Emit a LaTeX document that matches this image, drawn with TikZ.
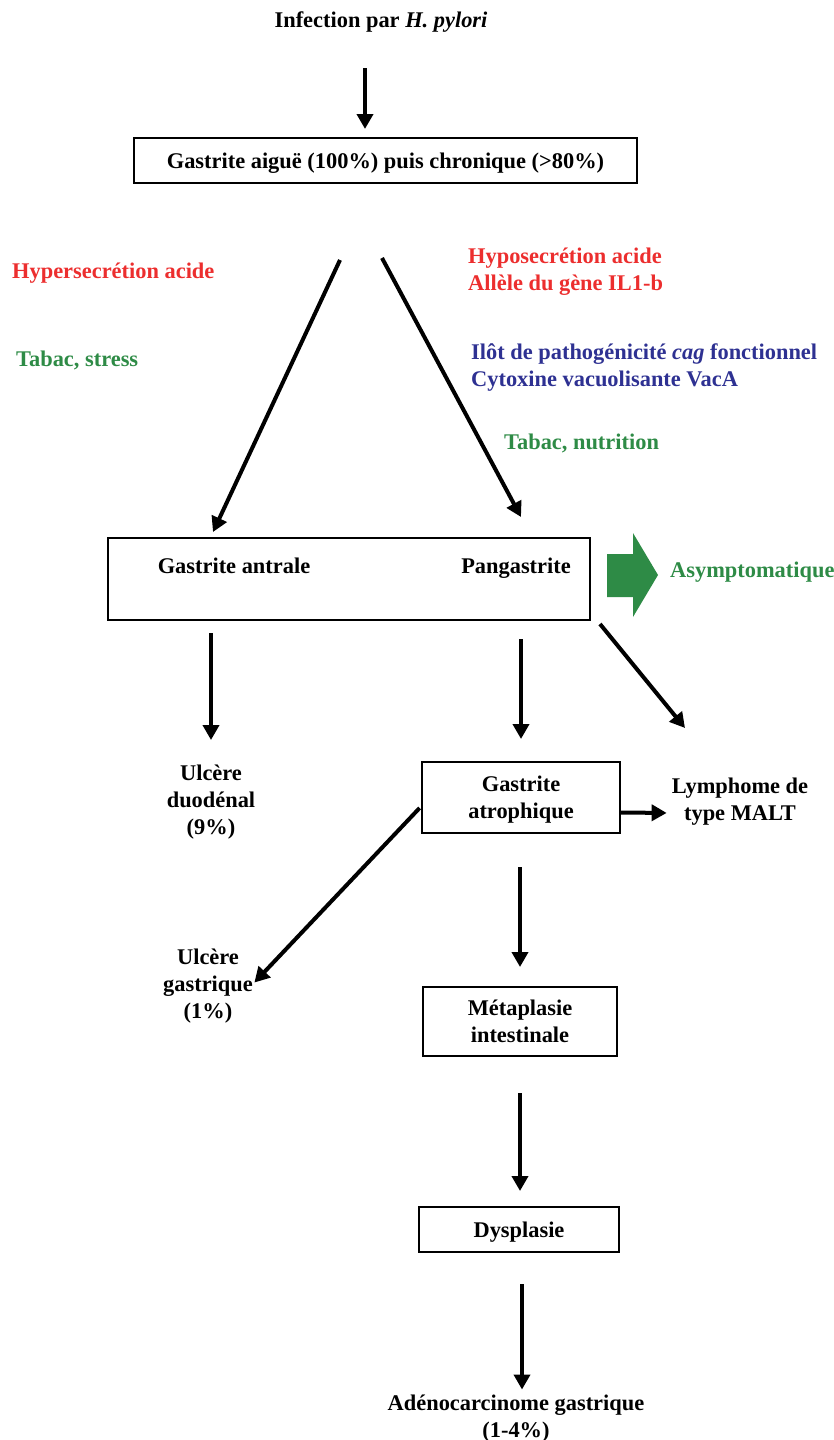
\documentclass[tikz,border=0pt]{standalone}
\usepackage{fontspec}
\setmainfont{Liberation Serif}
\usetikzlibrary{arrows.meta}
\definecolor{hprouge}{RGB}{236,46,46}
\definecolor{hpvert}{RGB}{46,139,70}
\definecolor{hpbleu}{RGB}{46,49,146}
\begin{document}
\begin{tikzpicture}[x=1pt,y=-1pt,
  every node/.style={font=\fontsize{22.4}{27}\selectfont\bfseries,inner sep=0pt,text depth=0pt,align=center},
  etape/.style={draw,line width=2pt},%boxes
  fl/.style={line width=4pt,-{Triangle[length=15pt,width=16pt]}},%thick arrows
  facteur/.style={anchor=west,align=left}]
\useasboundingbox (0,0) rectangle (834,1440);

\node (infection) at (381,20) {Infection par \textit{H. pylori}};
\node[etape,minimum width=503pt,minimum height=45pt] (aigue) at (385.5,160.5) {Gastrite aiguë (100\%) puis chronique (>80\%)};

\node[facteur,text=hprouge] (hyper) at (12,271) {Hypersecrétion acide};
\node[facteur,text=hpvert] (tabacL) at (16,359) {Tabac, stress};
\node[facteur,text=hprouge] (hypo) at (468,269) {Hyposecrétion acide\\Allèle du gène IL1-b};
\node[facteur,text=hpbleu] (cag) at (471,365.5) {Ilôt de pathogénicité \textit{cag} fonctionnel\\Cytoxine vacuolisante VacA};
\node[facteur,text=hpvert] (tabacR) at (504,442) {Tabac, nutrition};

\node[etape,minimum width=482pt,minimum height=82pt] (chronique) at (349,579) {};
\node (antrale) at (234,566) {Gastrite antrale};
\node (pangas) at (516,566) {Pangastrite};
\fill[hpvert] (607,554) -- (633,554) -- (633,533) -- (658,575) -- (633,617) -- (633,597) -- (607,597) -- cycle;
\node[anchor=west,text=hpvert] (asympto) at (670,570) {Asymptomatique};

\node (duodenal) at (211,800) {Ulcère\\duodénal\\(9\%)};
\node[etape,minimum width=198pt,minimum height=71pt] (atrophique) at (521,797.5) {Gastrite\\atrophique};
\node (malt) at (740,799) {Lymphome de\\type MALT};
\node (gastrique) at (208,984) {Ulcère\\gastrique\\(1\%)};
\node[etape,minimum width=194pt,minimum height=69pt] (metaplasie) at (520,1021.5) {Métaplasie\\intestinale};
\node[etape,minimum width=200pt,minimum height=45pt] (dysplasie) at (519,1229.5) {Dysplasie};
\node (adeno) at (516,1416) {Adénocarcinome gastrique\\(1-4\%)};

\coordinate (dL) at (340,260);
\coordinate (dR) at (382,258);
\coordinate (fL) at (213,532);
\coordinate (fR) at (521,517);
\coordinate (dM) at (600,624);
\coordinate (fM) at (685,728);

\draw[fl,shorten <=40pt,shorten >=8pt] (365,28) coordinate (t1) -- (t1 |- aigue.north);
\draw[fl] (dL) -- (fL);
\draw[fl] (dR) -- (fR);
\draw[fl,shorten <=12pt,shorten >=25pt] (duodenal.north |- chronique.south) -- (duodenal.north);
\draw[fl,shorten <=18pt,shorten >=22pt] (atrophique.north |- chronique.south) -- (atrophique.north);
\draw[fl] (dM) -- (fM);
\draw[fl,shorten >=5pt] ([yshift=-15pt]atrophique.east) -- ([yshift=-14pt]malt.west);
\draw[fl,shorten <=2pt,shorten >=2pt] ([yshift=-9pt]atrophique.west) -- (gastrique.east);
\draw[fl,shorten <=33pt,shorten >=19pt] (metaplasie.north |- atrophique.south) -- (metaplasie.north);
\draw[fl,shorten <=36pt,shorten >=15pt] (metaplasie.south) -- (metaplasie.south |- dysplasie.north);
\draw[fl,shorten <=31pt,shorten >=5pt] ([xshift=3pt]dysplasie.south) coordinate (d5) -- (d5 |- adeno.north);
\end{tikzpicture}
\end{document}
